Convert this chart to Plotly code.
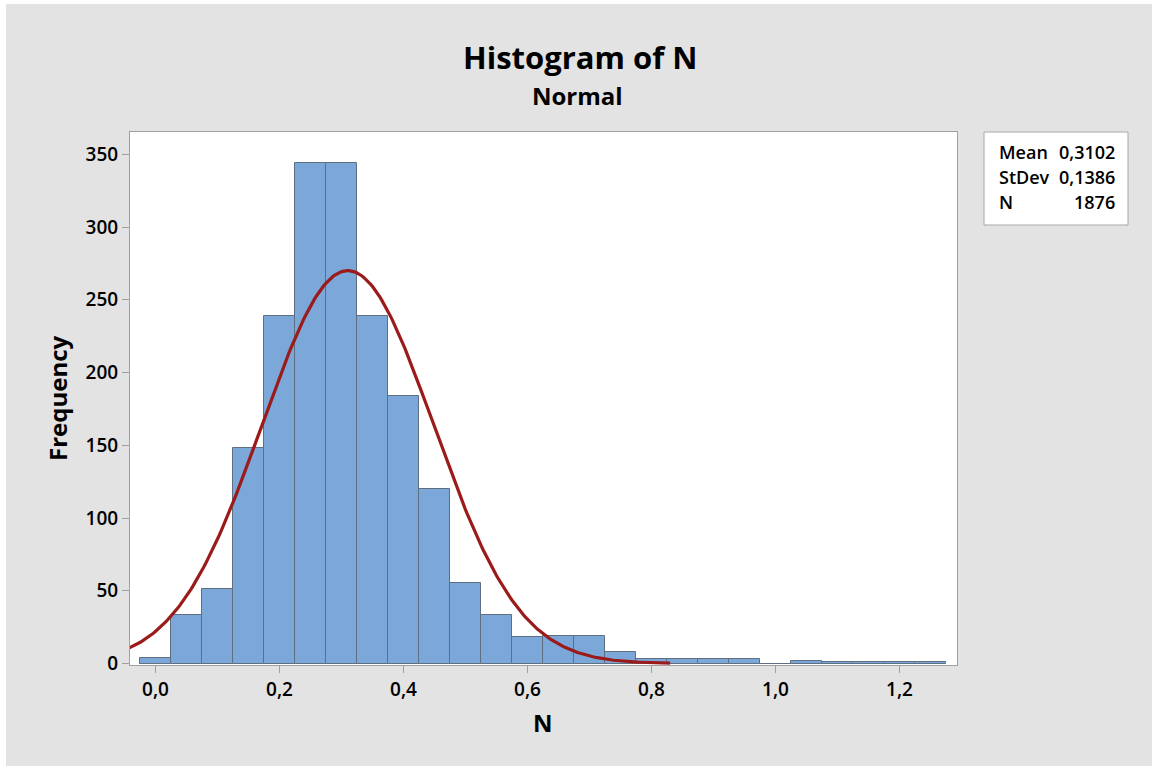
import numpy as np
import plotly.graph_objects as go

# ---- data ----
bin_centers = [0.00, 0.05, 0.10, 0.15, 0.20, 0.25, 0.30, 0.35, 0.40, 0.45, 0.50, 0.55, 0.60,
               0.65, 0.70, 0.75, 0.80, 0.85, 0.90, 0.95, 1.00, 1.05, 1.10, 1.15, 1.20, 1.25]
counts = [4, 33, 51, 148, 239, 344, 344, 239, 184, 120, 55, 33, 18,
          19, 19, 8, 3, 3, 3, 3, 0, 2, 1, 1, 1, 1]
bin_width = 0.05
MEAN = 0.3102
STDEV = 0.1386
N_OBS = 1876
stat_labels = ["Mean", "StDev", "N"]
stat_values = ["0,3102", "0,1386", "1876"]
x_ticks = [0.0, 0.2, 0.4, 0.6, 0.8, 1.0, 1.2]
y_ticks = [0, 50, 100, 150, 200, 250, 300, 350]

# fitted normal curve (from the stated mean / stdev)
xc = np.linspace(-0.045, 0.83, 300)
yc = N_OBS * bin_width * np.exp(-0.5 * ((xc - MEAN) / STDEV) ** 2) / (STDEV * np.sqrt(2 * np.pi))

FONT = "Open Sans"
fig = go.Figure()
fig.add_trace(go.Bar(
    x=bin_centers, y=counts, width=bin_width,
    marker=dict(color="#7BA7D9", line=dict(color="#5F6F82", width=1)),
    showlegend=False, hoverinfo="x+y"))
fig.add_trace(go.Scatter(
    x=xc, y=yc, mode="lines", line=dict(color="#9B1B1B", width=3.2),
    showlegend=False, cliponaxis=True))

W, H = 1156, 770
ml, mr, mt, mb = 130, 199, 132, 105
pw, ph = W - ml - mr, H - mt - mb


def px(xp):
    return (xp - ml) / pw


def py(yp):
    return (H - mb - yp) / ph


shapes = [
    dict(type="rect", xref="paper", yref="paper", x0=px(6), x1=px(1152), y0=py(766), y1=py(4),
         fillcolor="#E3E3E3", line=dict(width=0), layer="below"),
    dict(type="rect", xref="paper", yref="paper", x0=0, x1=1, y0=0, y1=1,
         fillcolor="white", line=dict(width=0), layer="below"),
    dict(type="rect", xref="paper", yref="paper", x0=px(984), x1=px(1128), y0=py(225), y1=py(132),
         fillcolor="white", line=dict(color="#A8A8A8", width=1), layer="above"),
]


def ann(text, xp, yp, size, xanchor="center", angle=0, weight=None):
    f = dict(family=FONT, size=size, color="black")
    if weight:
        f["weight"] = weight
    return dict(text=text, x=px(xp), y=py(yp), xref="paper", yref="paper",
                xanchor=xanchor, yanchor="middle", showarrow=False,
                textangle=angle, font=f)


annotations = [
    ann("<b>Histogram of N</b>", 580, 57, 31),
    ann("<b>Normal</b>", 577, 95, 24),
    ann("<b>Frequency</b>", 57, 398, 24, angle=-90),
    ann("<b>N</b>", 543, 722, 24),
]
for i, (lab, val) in enumerate(zip(stat_labels, stat_values)):
    yy = 152 + 25 * i
    annotations.append(ann(lab, 997, yy, 18, xanchor="left", weight=600))
    annotations.append(ann(val, 1117, yy, 18, xanchor="right", weight=600))

x0_px = 155.5
xrange = [(ml - x0_px) / 620.0, (W - mr - x0_px) / 620.0]
y0_px = 663.5
yrange = [-(H - mb - y0_px) / 1.455, (y0_px - mt) / 1.455]

fig.update_layout(
    width=W, height=H,
    margin=dict(l=ml, r=mr, t=mt, b=mb, pad=0),
    paper_bgcolor="white", plot_bgcolor="rgba(0,0,0,0)",
    separators=", ",
    bargap=0,
    shapes=shapes, annotations=annotations,
    xaxis=dict(range=xrange, tickvals=x_ticks, tickformat=".1f", showgrid=False, zeroline=False,
               showline=True, linecolor="#A0A0A0", linewidth=1, mirror=True,
               ticks="outside", ticklen=7, tickcolor="#A0A0A0",
               tickfont=dict(family=FONT, size=19, color="black", weight=600)),
    yaxis=dict(range=yrange, tickvals=y_ticks, showgrid=False, zeroline=False,
               showline=True, linecolor="#A0A0A0", linewidth=1, mirror=True,
               ticks="outside", ticklen=7, tickcolor="#A0A0A0",
               tickfont=dict(family=FONT, size=19, color="black", weight=600)),
)

fig.write_html("out.html")
